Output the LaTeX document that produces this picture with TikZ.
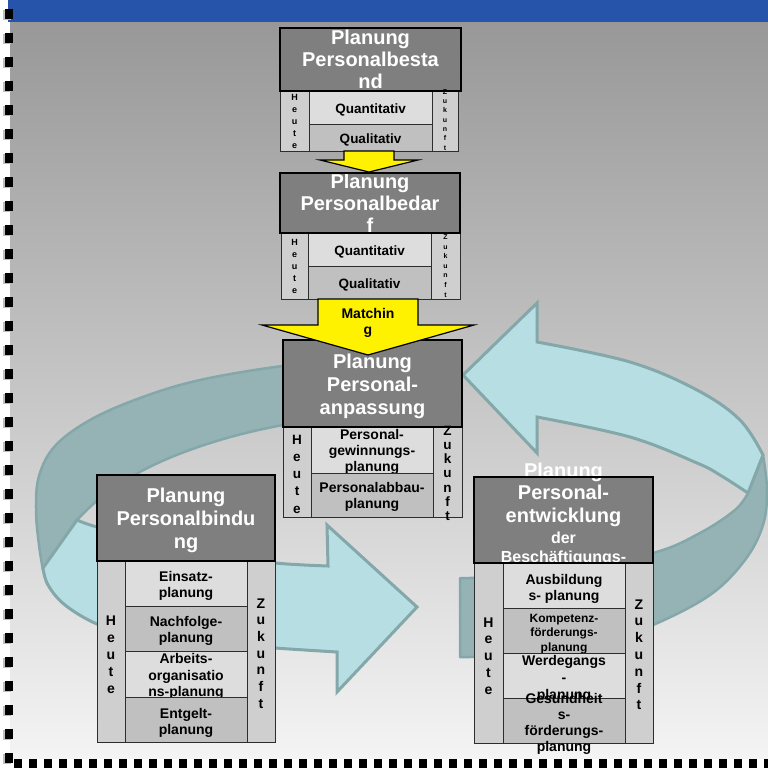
\documentclass[tikz,border=0pt]{standalone}
\usepackage{fontspec}
\setmainfont{Liberation Sans}
\usetikzlibrary{calc}

\definecolor{bgtop}{RGB}{152,152,152}
\definecolor{bgmid}{RGB}{205,205,205}
\definecolor{bgbot}{RGB}{244,244,244}
\definecolor{topblue}{RGB}{37,84,170}
\definecolor{hdrgray}{RGB}{127,127,127}
\definecolor{celllight}{RGB}{221,221,221}
\definecolor{celldark}{RGB}{192,192,192}
\definecolor{colgray}{RGB}{207,207,207}
\definecolor{cellline}{RGB}{45,45,45}
\definecolor{ringlight}{RGB}{183,222,226}
\definecolor{ringdark}{RGB}{149,179,181}
\definecolor{ringedge}{RGB}{132,167,170}

\newcommand\ml[2]{\vtop{\baselineskip=#1\lineskiplimit=-100pt\lineskip=0pt\halign{\hfil##\hfil\cr#2\crcr}}}
% name, colour, x, baseline y, size, leading, text
\newcommand\tx[7]{\node[txt, text=#2, font=\bfseries\fontsize{#5}{#5}\selectfont] (#1) at (#3,#4) {\ml{#6pt}{#7}};}
\newcommand\cellbox[5]{\filldraw[fill=#5, draw=cellline, line width=0.8pt] (#1,#2) rectangle (#3,#4);}

\tikzset{
  txt/.style={inner sep=0pt, outer sep=0pt, anchor=base},
  hdrline/.style={draw=black, line width=2pt},
  ringfront/.style={fill=ringlight, draw=ringedge, line width=3pt, line join=miter},
  ringback/.style={fill=ringdark, draw=ringedge, line width=2.5pt, line join=round},
  yarrow/.style={fill=yellow, draw=black, line width=1.2pt, line join=miter}
}

\begin{document}
\begin{tikzpicture}[x=1pt,y=-1pt]
\useasboundingbox (0,0) rectangle (768,768);
\fill[white] (0,0) rectangle (768,768);
% background
\shade[top color=bgtop, middle color=bgmid, bottom color=bgbot] (10,22) rectangle (768,758);
\fill[topblue] (8,0) rectangle (768,22.5);
% dashed frame
\draw[black!25, line width=8pt, dash pattern=on 10pt off 14pt] (6.5,10) -- (6.5,768);
\draw[black, line width=8pt, dash pattern=on 10pt off 14pt] (9,9) -- (9,768);
\draw[black, line width=9pt, dash pattern=on 8pt off 7pt] (14,763) -- (768,763);

% ===== ring =====
\filldraw[ringback]
  plot[smooth, tension=0.6] coordinates {(340,363) (283,366) (200,380) (140,398) (90,420) (55,446) (39,476) (36,510) (39,545) (43,570)}
  -- (77,520)
  -- plot[smooth, tension=0.6] coordinates {(77,520) (110,490) (160,462) (220,440) (283,425) (340,418)}
  -- cycle;
\filldraw[ringback]
  plot[smooth, tension=0.6] coordinates {(763,455) (767,490) (763,525) (745,560) (710,595) (653,625) (600,643) (530,654) (470,657)}
  -- (460,657) -- (460,578) -- (470,578)
  -- plot[smooth, tension=0.6] coordinates {(470,578) (560,572) (653,553) (700,533) (735,510) (748,493)}
  -- cycle;
\filldraw[ringfront]
  (77,520) -- plot[smooth, tension=0.6] coordinates {(77,520) (97,527) (150,540) (220,555) (275,563) (328,566)}
  -- (327,525) -- (417,607) -- (337,692) -- (337,652)
  -- plot[smooth, tension=0.6] coordinates {(337,652) (275,648) (200,642) (130,632) (97,624) (65,605) (48,585) (43,568)}
  -- cycle;
\filldraw[ringfront]
  (463,375) -- (537,303) -- (537,342)
  -- plot[smooth, tension=0.6] coordinates {(537,342) (630,362) (697,390) (740,420) (763,455)}
  -- (748,493)
  -- plot[smooth, tension=0.6] coordinates {(748,493) (720,475) (697,463) (630,437) (537,417)}
  -- (537,453) -- cycle;

% ===== Box 1 =====
\fill[hdrgray] (280,28) rectangle (461,91);
\tx{b1t}{white}{370.5}{45}{20}{22}{Planung\cr Personalbesta\cr nd}
\cellbox{280}{91}{309}{151}{colgray}
\cellbox{309}{91}{432}{124}{celllight}
\tx{b1r1}{black}{370.5}{113.5}{13.5}{14}{Quantitativ}
\cellbox{309}{124}{432}{151}{celldark}
\tx{b1r2}{black}{370.5}{143.5}{13.5}{14}{Qualitativ}
\cellbox{432}{91}{458}{151}{colgray}
\tx{b1h}{black}{294.5}{100}{9}{12}{H\cr e\cr u\cr t\cr e}
\tx{b1z}{black}{445}{94}{7}{9.4}{Z\cr u\cr k\cr u\cr n\cr f\cr t}
\draw[hdrline] (280,28) rectangle (461,91);

% ===== Box 2 =====
\fill[hdrgray] (280,173) rectangle (460,233);
\tx{b2t}{white}{370}{188.5}{20}{22}{Planung\cr Personalbedar\cr f}
\cellbox{281}{233}{308}{299}{colgray}
\cellbox{308}{233}{431}{266}{celllight}
\tx{b2r1}{black}{369.5}{255.5}{13.5}{14}{Quantitativ}
\cellbox{308}{266}{431}{299}{celldark}
\tx{b2r2}{black}{369.5}{288.5}{13.5}{14}{Qualitativ}
\cellbox{431}{233}{460}{299}{colgray}
\tx{b2h}{black}{294.5}{245}{9}{12}{H\cr e\cr u\cr t\cr e}
\tx{b2z}{black}{445.5}{239.5}{7}{9.6}{Z\cr u\cr k\cr u\cr n\cr f\cr t}
\draw[hdrline] (280,173) rectangle (460,233);

% ===== Box 3 =====
\fill[hdrgray] (283,340) rectangle (462,427);
\tx{b3t}{white}{372.5}{368}{20}{23}{Planung\cr Personal-\cr anpassung}
\cellbox{283}{427}{311}{517}{colgray}
\cellbox{311}{427}{433}{473}{celllight}
\tx{b3r1}{black}{372}{439}{14}{16}{Personal-\cr gewinnungs-\cr planung}
\cellbox{311}{473}{433}{517}{celldark}
\tx{b3r2}{black}{372}{492}{14}{16}{Personalabbau-\cr planung}
\cellbox{433}{427}{462}{517}{colgray}
\tx{b3h}{black}{297}{444}{13.5}{17.3}{H\cr e\cr u\cr t\cr e}
\tx{b3z}{black}{447.5}{435}{13.5}{14.3}{Z\cr u\cr k\cr u\cr n\cr f\cr t}
\draw[hdrline] (283,340) rectangle (462,427);

% ===== Box 4 =====
\fill[hdrgray] (97,475) rectangle (275,561);
\tx{b4t}{white}{186}{502.5}{20}{23}{Planung\cr Personalbindu\cr ng}
\cellbox{97}{561}{125}{742}{colgray}
\cellbox{125}{561}{247}{606}{celllight}
\tx{b4r1}{black}{186}{581}{14}{16.5}{Einsatz-\cr planung}
\cellbox{125}{606}{247}{651}{celldark}
\tx{b4r2}{black}{186}{626}{14}{16.5}{Nachfolge-\cr planung}
\cellbox{125}{651}{247}{697}{celllight}
\tx{b4r3}{black}{186}{663.5}{14}{16.5}{Arbeits-\cr organisatio\cr ns-planung}
\cellbox{125}{697}{247}{742}{celldark}
\tx{b4r4}{black}{186}{718}{14}{16.5}{Entgelt-\cr planung}
\cellbox{247}{561}{275}{742}{colgray}
\tx{b4h}{black}{111}{625}{14}{17}{H\cr e\cr u\cr t\cr e}
\tx{b4z}{black}{261}{608}{14}{16.7}{Z\cr u\cr k\cr u\cr n\cr f\cr t}
\draw[hdrline] (97,475) rectangle (275,561);

% ===== Box 5 =====
\fill[hdrgray] (474,477) rectangle (653,563);
\tx{b5t}{white}{563.5}{477}{20}{22.5}{Planung\cr Personal-\cr entwicklung}
\tx{b5u}{white}{563.5}{543}{16}{19}{der\cr Beschäftigungs-}
\cellbox{474}{563}{503}{743}{colgray}
\cellbox{503}{563}{625}{608}{celllight}
\tx{b5r1}{black}{564}{584}{14}{16.5}{Ausbildung\cr s- planung}
\cellbox{503}{608}{625}{653}{celldark}
\tx{b5r2}{black}{564}{622}{12}{14.5}{Kompetenz-\cr förderungs-\cr planung}
\cellbox{503}{653}{625}{698}{celllight}
\tx{b5r3}{black}{564}{665}{14}{17}{Werdegangs\cr -\cr planung}
\cellbox{503}{698}{625}{743}{celldark}
\tx{b5r4}{black}{564}{703}{14}{16.3}{Gesundheit\cr s-\cr förderungs-\cr planung}
\cellbox{625}{563}{653}{743}{colgray}
\tx{b5h}{black}{488.5}{627}{14}{16.8}{H\cr e\cr u\cr t\cr e}
\tx{b5z}{black}{639}{609}{14}{16.8}{Z\cr u\cr k\cr u\cr n\cr f\cr t}
\draw[hdrline] (474,477) rectangle (653,563);

% ===== yellow arrows =====
\filldraw[yarrow] (344,151) -- (394,151) -- (394,160) -- (418,160) -- (369,172) -- (320,160) -- (344,160) -- cycle;
\filldraw[yarrow] (318,299) -- (418,299) -- (418,325) -- (474,325) -- (368,355) -- (262,325) -- (318,325) -- cycle;
\tx{match}{black}{368}{318}{14}{16}{Matchin\cr g}
\end{tikzpicture}
\end{document}
